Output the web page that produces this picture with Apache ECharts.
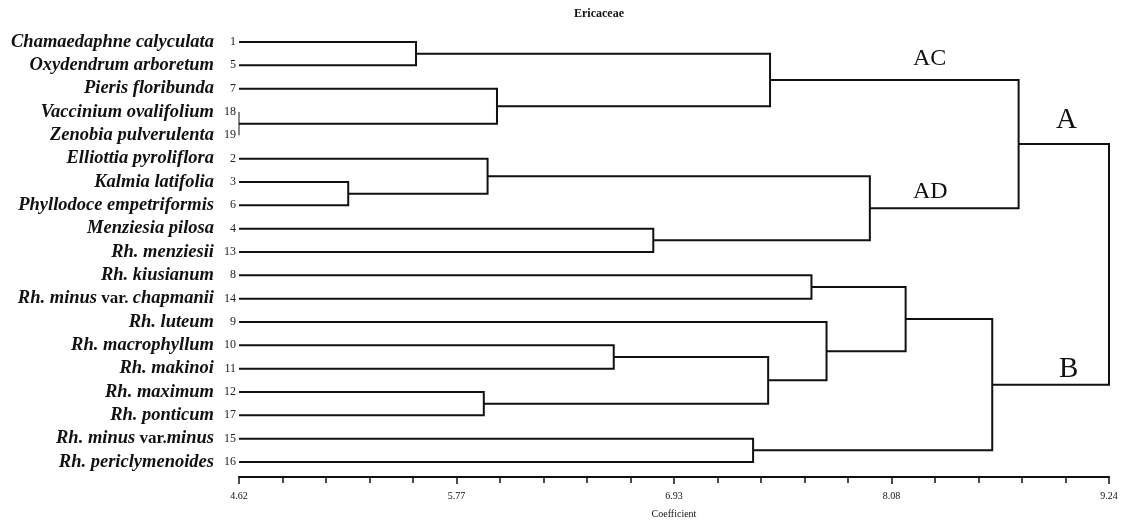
<!DOCTYPE html>
<html>
<head>
<meta charset="utf-8">
<script src="https://cdn.jsdelivr.net/npm/echarts@6/dist/echarts.min.js"></script>
<style>html,body{margin:0;padding:0;background:#fff}#c{width:1122px;height:524px}</style>
</head>
<body>
<div id="c"></div>
<script>
// ---- data ----
var title = 'Ericaceae';
var axisName = 'Coefficient';
var tickLabels = ['4.62', '5.77', '6.93', '8.08', '9.24'];
var axisMin = 4.62, axisMax = 9.24;
// leaves, top to bottom
var leafNames = ['Chamaedaphne calyculata', 'Oxydendrum arboretum', 'Pieris floribunda',
  'Vaccinium ovalifolium', 'Zenobia pulverulenta', 'Elliottia pyroliflora', 'Kalmia latifolia',
  'Phyllodoce empetriformis', 'Menziesia pilosa', 'Rh. menziesii', 'Rh. kiusianum',
  'Rh. minus|var.|chapmanii', 'Rh. luteum', 'Rh. macrophyllum', 'Rh. makinoi', 'Rh. maximum',
  'Rh. ponticum', 'Rh. minus|var.|minus', 'Rh. periclymenoides'];
var leafNumbers = ['1', '5', '7', '18', '19', '2', '3', '6', '4', '13', '8', '14', '9', '10', '11', '12', '17', '15', '16'];
// merges: left child, right child (leaf number or merge id 'mN'), coefficient
var mergeLeft   = ['18', '1',    '7',    'm1',   '3',    '2',    '4',    'm5',   'm3',   '8',    '10',   '12',   'm10',  '9',    'm9',   '15',   'm14',  'm8'];
var mergeRight  = ['19', '5',    'm0',   'm2',   '6',    'm4',   '13',   'm6',   'm7',   '14',   '11',   '17',   'm11',  'm12',  'm13',  '16',   'm15',  'm16'];
var mergeHeight = [4.62, 5.56,   5.99,   7.44,   5.20,   5.94,   6.82,   7.97,   8.76,   7.66,   6.61,   5.92,   7.43,   7.74,   8.16,   7.35,   8.62,   9.24];
var clusterLabels = ['AC', 'AD', 'A', 'B'];

// ---- build links ----
var nodePos = {};
leafNumbers.forEach(function (n, i) { nodePos[n] = [axisMin, i]; });
var links = [];
mergeHeight.forEach(function (h, i) {
  var a = nodePos[mergeLeft[i]], b = nodePos[mergeRight[i]];
  links.push([a[0], a[1], b[0], b[1], h]);
  nodePos['m' + i] = [h, (a[1] + b[1]) / 2];
});

var SERIF = '"Liberation Serif", "Times New Roman", serif';

function leafLabel(v) {
  var i = Math.round(v);
  if (i < 0 || i >= leafNames.length) return '';
  var parts = leafNames[i].split('|');
  var s = '{n|' + parts[0] + '}';
  if (parts.length > 1) s += '{v| ' + parts[1] + (parts[2] === 'minus' ? '' : ' ') + '}{n|' + parts[2] + '}';
  return s + '{k|' + leafNumbers[i] + '}';
}

var chart = echarts.init(document.getElementById('c'), null, {renderer: 'canvas'});
chart.setOption({
  backgroundColor: '#fff',
  animation: false,
  title: {
    text: title, left: 569, top: 3,
    textStyle: {fontFamily: SERIF, fontWeight: 'bold', fontSize: 12, color: '#111'}
  },
  grid: {left: 239, right: 13, top: 42, bottom: 58},
  xAxis: {
    type: 'value', position: 'bottom', min: axisMin, max: axisMax, interval: 1.155, offset: 15,
    name: axisName, nameLocation: 'middle', nameGap: 32,
    nameTextStyle: {fontFamily: SERIF, fontSize: 10, color: '#111'},
    axisLine: {show: true, onZero: false, lineStyle: {color: '#111', width: 2}},
    axisTick: {show: true, length: 7, lineStyle: {color: '#111', width: 1.5}},
    minorTick: {show: true, splitNumber: 5, length: 6, lineStyle: {color: '#111', width: 1.5}},
    splitLine: {show: false},
    axisLabel: {
      margin: 14, fontFamily: SERIF, fontSize: 10, color: '#111',
      formatter: function (v) { return tickLabels[Math.round((v - axisMin) / 1.155)] || ''; }
    }
  },
  yAxis: {
    type: 'value', inverse: true, min: 0, max: 18, interval: 1,
    axisLine: {show: false}, axisTick: {show: false}, splitLine: {show: false},
    axisLabel: {
      margin: 3, formatter: leafLabel,
      rich: {
        n: {fontFamily: SERIF, fontStyle: 'italic', fontWeight: 'bold', fontSize: 18.5, color: '#111'},
        v: {fontFamily: SERIF, fontWeight: 'bold', fontSize: 17, color: '#111'},
        k: {fontFamily: SERIF, fontSize: 12, color: '#222', width: 22, align: 'right'}
      }
    }
  },
  series: [{
    type: 'custom',
    clip: false,
    data: links,
    encode: {x: [0, 2, 4], y: [1, 3]},
    renderItem: function (params, api) {
      var pa = api.coord([api.value(0), api.value(1)]);
      var pb = api.coord([api.value(2), api.value(3)]);
      var h = api.value(4);
      var xa = api.coord([h, api.value(1)]);
      var xb = api.coord([h, api.value(3)]);
      var thin = h <= axisMin + 1e-9;
      return {
        type: 'polyline',
        shape: {points: [pa, xa, xb, pb]},
        style: {fill: null, stroke: '#111', lineWidth: thin ? 1 : 2}
      };
    }
  }],
  graphic: [
    {type: 'text', left: 913, top: 47, style: {text: clusterLabels[0], font: '24px ' + SERIF, fill: '#111'}},
    {type: 'text', left: 913, top: 180, style: {text: clusterLabels[1], font: '24px ' + SERIF, fill: '#111'}},
    {type: 'text', left: 1056, top: 106, style: {text: clusterLabels[2], font: '29px ' + SERIF, fill: '#111'}},
    {type: 'text', left: 1059, top: 355, style: {text: clusterLabels[3], font: '29px ' + SERIF, fill: '#111'}}
  ]
});
</script>
</body>
</html>
